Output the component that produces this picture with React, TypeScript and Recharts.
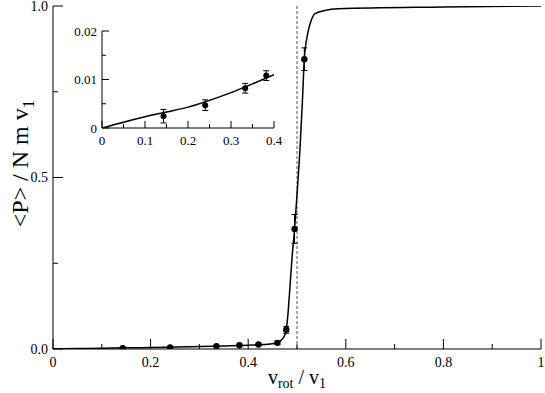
import { ComposedChart, Line, Scatter, ErrorBar, XAxis, YAxis, ReferenceLine } from "recharts"

const FONT = "'Liberation Serif', Tinos, 'Times New Roman', 'DejaVu Serif', serif"

// main panel
const mainXTicks = [0, 0.1, 0.2, 0.3, 0.4, 0.5, 0.6, 0.7, 0.8, 0.9, 1]
const mainXLabels = ["0", "", "0.2", "", "0.4", "", "0.6", "", "0.8", "", "1"]
const mainYTicks = [0, 0.25, 0.5, 0.75, 1]
const mainYLabels = ["0.0", "", "0.5", "", "1.0"]

const curveX = [0, 0.05, 0.1, 0.15, 0.2, 0.25, 0.3, 0.35, 0.4, 0.44, 0.46, 0.468, 0.474, 0.478, 0.481, 0.485, 0.49, 0.495, 0.5, 0.506, 0.511, 0.515, 0.522, 0.527, 0.537, 0.557, 0.584, 0.8, 1]
const curveY = [0, 0.0012, 0.0023, 0.0033, 0.0043, 0.0057, 0.0073, 0.0091, 0.011, 0.0135, 0.018, 0.026, 0.038, 0.056, 0.094, 0.17, 0.27, 0.35, 0.45, 0.58, 0.72, 0.845, 0.92, 0.949, 0.978, 0.987, 0.992, 0.997, 1]

const pointX = [0.143, 0.24, 0.335, 0.382, 0.421, 0.46, 0.478, 0.495, 0.515]
const pointY = [0.0024, 0.0047, 0.0082, 0.0108, 0.013, 0.018, 0.056, 0.35, 0.845]
const pointErr = [0.0014, 0.0011, 0.001, 0.001, 0.0015, 0.005, 0.01, 0.042, 0.033]

// inset panel
const insetXTicks = [0, 0.05, 0.1, 0.15, 0.2, 0.25, 0.3, 0.35, 0.4]
const insetXLabels = ["0", "", "0.1", "", "0.2", "", "0.3", "", "0.4"]
const insetYTicks = [0, 0.005, 0.01, 0.015, 0.02]
const insetYLabels = ["0", "", "0.01", "", "0.02"]

const insetCurveX = [0, 0.05, 0.1, 0.15, 0.2, 0.25, 0.3, 0.35, 0.4]
const insetCurveY = [0, 0.0012, 0.0023, 0.0033, 0.0043, 0.0057, 0.0073, 0.0091, 0.011]

const insetPointX = [0.143, 0.24, 0.333, 0.382]
const insetPointY = [0.00244, 0.0047, 0.0082, 0.0108]
const insetPointErr = [0.0014, 0.0011, 0.001, 0.001]

const curve = curveX.map((x, i) => ({ x, y: curveY[i] }))
const points = pointX.map((x, i) => ({ x, y: pointY[i], err: pointErr[i] }))
const insetCurve = insetCurveX.map((x, i) => ({ x, y: insetCurveY[i] }))
const insetPoints = insetPointX.map((x, i) => ({ x, y: insetPointY[i], err: insetPointErr[i] }))

const textStyle = (size: number) => ({ fontFamily: FONT, fontSize: size, fill: "#000" })

// ticks drawn inward, label only on bottom/left
const makeTick = (side: string, labels: string[], major: number, minor: number, fontSize: number, showText: boolean) =>
  (props: any) => {
    const { x, y, index } = props
    const label = labels[index] ?? ""
    const len = label === "" ? minor : major
    let x2 = x
    let y2 = y
    if (side === "bottom") y2 = y - len
    if (side === "top") y2 = y + len
    if (side === "left") x2 = x + len
    if (side === "right") x2 = x - len
    return (
      <g>
        <line x1={x} y1={y} x2={x2} y2={y2} stroke="#000" strokeWidth={1} />
        {showText && label !== "" && side === "bottom" && (
          <text x={x} y={y + fontSize + 4} textAnchor="middle" style={textStyle(fontSize)}>
            {label}
          </text>
        )}
        {showText && label !== "" && side === "left" && (
          <text x={x - 5} y={y + fontSize * 0.35} textAnchor="end" style={textStyle(fontSize)}>
            {label}
          </text>
        )}
      </g>
    )
  }

const dot = (r: number) => (props: any) => <circle cx={props.cx} cy={props.cy} r={r} fill="#000" />

const xTitle = (props: any) => {
  const vb = props.viewBox
  return (
    <text x={vb.x + vb.width / 2} y={vb.y + 35} textAnchor="middle" style={textStyle(20)}>
      v<tspan style={{ fontSize: 14 }} dy={4}>rot</tspan>
      <tspan dy={-4}>{" / v"}</tspan>
      <tspan style={{ fontSize: 14 }} dy={4}>1</tspan>
    </text>
  )
}

const yTitle = (props: any) => {
  const vb = props.viewBox
  const cy = vb.y + vb.height / 2 - 14
  return (
    <text transform={`translate(28,${cy}) rotate(-90)`} textAnchor="middle" style={textStyle(24)}>
      {"<P> / N m v"}
      <tspan style={{ fontSize: 17 }} dy={6}>1</tspan>
    </text>
  )
}

function Inset() {
  return (
    <ComposedChart width={220} height={125} margin={{ top: 8, right: 8, bottom: 0, left: 0 }}>
      <XAxis dataKey="x" type="number" domain={[0, 0.4]} ticks={insetXTicks} interval={0} height={20}
        tickSize={0} tickMargin={0} axisLine={{ stroke: "#000" }} tickLine={false}
        tick={makeTick("bottom", insetXLabels, 7, 4, 13, true)} allowDataOverflow />
      <XAxis xAxisId="top" orientation="top" dataKey="x" type="number" domain={[0, 0.4]} ticks={insetXTicks} interval={0} height={0}
        tickSize={0} tickMargin={0} axisLine={{ stroke: "#000" }} tickLine={false}
        tick={makeTick("top", insetXLabels, 7, 4, 13, false)} allowDataOverflow />
      <YAxis type="number" domain={[0, 0.02]} ticks={insetYTicks} interval={0} width={40}
        tickSize={0} tickMargin={0} axisLine={{ stroke: "#000" }} tickLine={false}
        tick={makeTick("left", insetYLabels, 7, 4, 13, true)} allowDataOverflow />
      <YAxis yAxisId="right" orientation="right" type="number" domain={[0, 0.02]} ticks={insetYTicks} interval={0} width={0}
        tickSize={0} tickMargin={0} axisLine={{ stroke: "#000" }} tickLine={false}
        tick={makeTick("right", insetYLabels, 7, 4, 13, false)} allowDataOverflow />
      <Line data={insetCurve} dataKey="y" type="monotone" stroke="#000" strokeWidth={1.5} dot={false} isAnimationActive={false} />
      <Scatter data={insetPoints} dataKey="y" shape={dot(3)} isAnimationActive={false}>
        <ErrorBar dataKey="err" direction="y" width={3} stroke="#000" strokeWidth={1} isAnimationActive={false} />
      </Scatter>
    </ComposedChart>
  )
}

export default function App() {
  return (
    <div style={{ position: "absolute", left: 0, top: 0, width: 545, height: 393, background: "#fff", fontFamily: FONT }}>
      <ComposedChart width={545} height={393} margin={{ top: 6, right: 4, bottom: 0, left: 0 }}>
        <XAxis dataKey="x" type="number" domain={[0, 1]} ticks={mainXTicks} interval={0} height={44}
          tickSize={0} tickMargin={0} axisLine={{ stroke: "#000" }} tickLine={false}
          tick={makeTick("bottom", mainXLabels, 10, 5, 14, true)} label={xTitle} allowDataOverflow />
        <XAxis xAxisId="top" orientation="top" dataKey="x" type="number" domain={[0, 1]} ticks={mainXTicks} interval={0} height={0}
          tickSize={0} tickMargin={0} axisLine={{ stroke: "#000" }} tickLine={false}
          tick={makeTick("top", mainXLabels, 10, 5, 14, false)} allowDataOverflow />
        <YAxis type="number" domain={[0, 1]} ticks={mainYTicks} interval={0} width={53}
          tickSize={0} tickMargin={0} axisLine={{ stroke: "#000" }} tickLine={false}
          tick={makeTick("left", mainYLabels, 10, 5, 14, true)} label={yTitle} allowDataOverflow />
        <YAxis yAxisId="right" orientation="right" type="number" domain={[0, 1]} ticks={mainYTicks} interval={0} width={0}
          tickSize={0} tickMargin={0} axisLine={{ stroke: "#000" }} tickLine={false}
          tick={makeTick("right", mainYLabels, 10, 5, 14, false)} allowDataOverflow />
        <ReferenceLine x={0.5} stroke="#555" strokeDasharray="3 2" strokeWidth={1} />
        <Line data={curve} dataKey="y" type="monotone" stroke="#000" strokeWidth={1.5} dot={false} isAnimationActive={false} />
        <Scatter data={points} dataKey="y" shape={dot(3.2)} isAnimationActive={false}>
          <ErrorBar dataKey="err" direction="y" width={3} stroke="#000" strokeWidth={1} isAnimationActive={false} />
        </Scatter>
      </ComposedChart>
      <div style={{ position: "absolute", left: 62, top: 23, width: 220, height: 125 }}>
        <Inset />
      </div>
    </div>
  )
}
